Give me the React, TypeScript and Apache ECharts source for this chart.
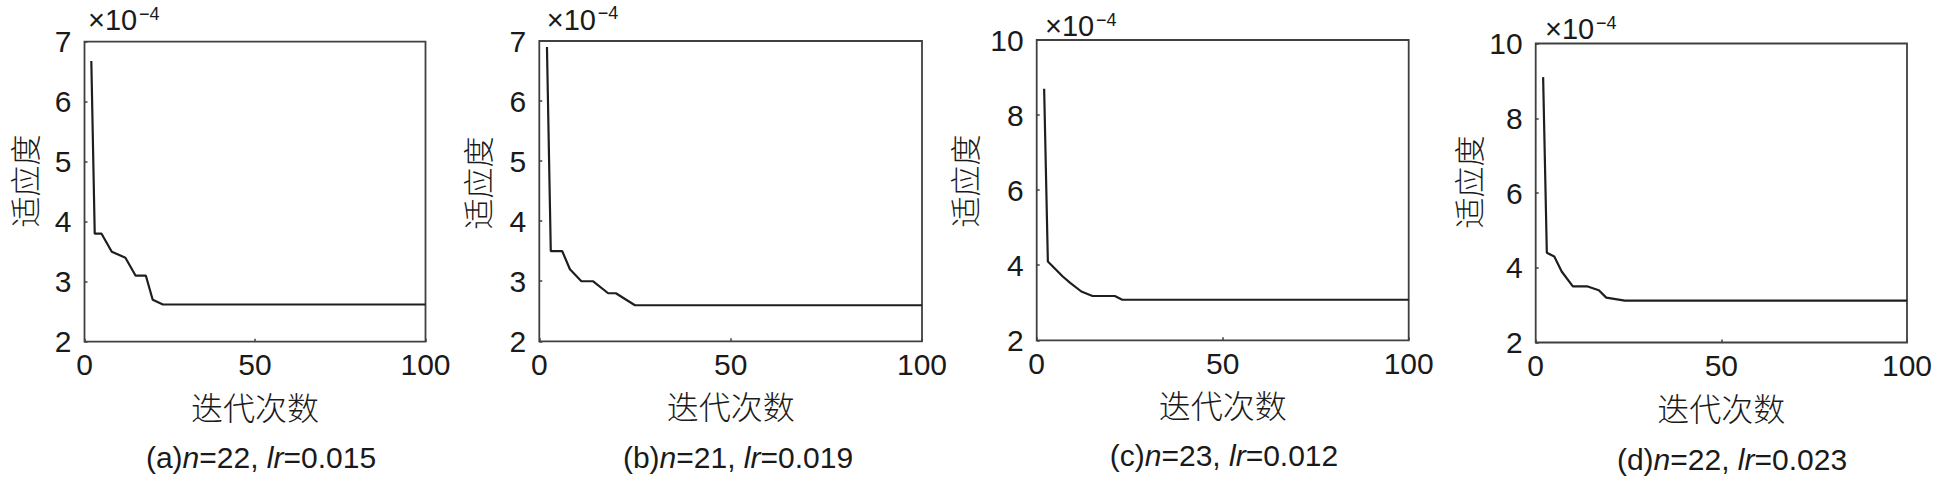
import React, { useEffect, useRef } from "react";
import * as echarts from "echarts";

// ---- data (fitness values in units of 1e-4) ----
const xTicks = [0, 50, 100];
const iterA = [2, 3, 5, 8, 12, 15, 18, 20, 23, 100];
const fitA = [6.68, 3.8, 3.8, 3.5, 3.4, 3.1, 3.1, 2.7, 2.62, 2.62];
const iterB = [2, 3, 6, 8, 11, 14, 18, 20, 25, 100];
const fitB = [6.9, 3.5, 3.5, 3.2, 3.0, 3.0, 2.8, 2.8, 2.6, 2.6];
const iterC = [2, 3, 7, 9, 12, 15, 21, 23, 100];
const fitC = [8.7, 4.1, 3.7, 3.53, 3.3, 3.18, 3.18, 3.08, 3.08];
const iterD = [2, 3, 5, 7, 10, 14, 17, 19, 24, 100];
const fitD = [9.1, 4.4, 4.3, 3.9, 3.5, 3.5, 3.4, 3.2, 3.12, 3.12];

const yRangeAB = [2, 7, 1];
const yRangeCD = [2, 10, 2];

const captionLetters = ["a", "b", "c", "d"];
const captionN = [22, 21, 23, 22];
const captionLr = ["0.015", "0.019", "0.012", "0.023"];

const xAxisName = "迭代次数";
const yAxisName = "适应度";
const expBase = "×10";
const expSup = "−4";

// ---- layout (pixels) ----
const layout = [
  { left: 84.5, top: 41.7, right: 425.5, bottom: 341.7, yName: [23, 181], expX: 88, expBaseY: 19.7, expSupY: 13.8, cap: [261, 457.5] },
  { left: 539.3, top: 41, right: 922, bottom: 341.3, yName: [476, 183], expX: 546.7, expBaseY: 20, expSupY: 12.5, cap: [738, 457] },
  { left: 1036.7, top: 40, right: 1408.7, bottom: 340.3, yName: [963, 181], expX: 1045, expBaseY: 26, expSupY: 20, cap: [1224, 455.5] },
  { left: 1535.7, top: 43.5, right: 1907, bottom: 342.5, yName: [1467, 182], expX: 1545, expBaseY: 29, expSupY: 23.3, cap: [1732, 459.5] },
];

const LATIN = "'Liberation Sans', Arial, sans-serif";
const CJK = "'Noto Sans CJK SC', sans-serif";
const AXIS_COLOR = "#404040";
const TEXT_COLOR = "#1a1a1a";

export default function App() {
  const ref = useRef<HTMLDivElement>(null);

  useEffect(() => {
    document.body.style.margin = "0";
    if (!ref.current) return;
    const chart = echarts.init(ref.current, null, { renderer: "svg" });

    const iters = [iterA, iterB, iterC, iterD];
    const fits = [fitA, fitB, fitC, fitD];
    const ranges = [yRangeAB, yRangeAB, yRangeCD, yRangeCD];

    const grid: any[] = [];
    const xAxis: any[] = [];
    const yAxis: any[] = [];
    const series: any[] = [];
    const graphic: any[] = [];

    layout.forEach((L, i) => {
      grid.push({
        left: L.left,
        top: L.top,
        width: L.right - L.left,
        height: L.bottom - L.top,
        show: true,
        borderColor: AXIS_COLOR,
        borderWidth: 1.8,
        backgroundColor: "transparent",
      });
      xAxis.push({
        gridIndex: i,
        type: "value",
        min: xTicks[0],
        max: xTicks[xTicks.length - 1],
        interval: xTicks[1] - xTicks[0],
        name: xAxisName,
        nameLocation: "middle",
        nameGap: 48,
        nameTextStyle: { fontFamily: CJK, fontSize: 32, fontWeight: 300, color: TEXT_COLOR },
        axisLine: { show: false },
        axisTick: { show: true, inside: true, length: 3, lineStyle: { color: AXIS_COLOR, width: 1.5 } },
        axisLabel: { fontFamily: LATIN, fontSize: 30, color: TEXT_COLOR, margin: 8 },
        splitLine: { show: false },
      });
      const r = ranges[i];
      yAxis.push({
        gridIndex: i,
        type: "value",
        min: r[0],
        max: r[1],
        interval: r[2],
        axisLine: { show: false },
        axisTick: { show: true, inside: true, length: 3, lineStyle: { color: AXIS_COLOR, width: 1.5 } },
        axisLabel: { fontFamily: LATIN, fontSize: 30, color: TEXT_COLOR, margin: 13 },
        splitLine: { show: false },
      });
      series.push({
        type: "line",
        xAxisIndex: i,
        yAxisIndex: i,
        data: iters[i].map((x, k) => [x, fits[i][k]]),
        showSymbol: false,
        symbol: "none",
        lineStyle: { color: "#1e1e1e", width: 2.2 },
        silent: true,
      });
      graphic.push({
        type: "text",
        x: L.yName[0],
        y: L.yName[1],
        rotation: Math.PI / 2,
        style: {
          text: yAxisName,
          font: `300 31px ${CJK}`,
          fill: TEXT_COLOR,
          textAlign: "center",
          textVerticalAlign: "middle",
        },
      });
      graphic.push({
        type: "text",
        x: L.expX,
        y: L.expBaseY,
        style: { text: expBase, font: `29px ${LATIN}`, fill: TEXT_COLOR, textAlign: "left", textVerticalAlign: "middle" },
      });
      graphic.push({
        type: "text",
        x: L.expX + 51,
        y: L.expSupY,
        style: { text: expSup, font: `18px ${LATIN}`, fill: TEXT_COLOR, textAlign: "left", textVerticalAlign: "middle" },
      });
      graphic.push({
        type: "text",
        x: L.cap[0],
        y: L.cap[1],
        style: {
          text: `{p|(${captionLetters[i]})}{i|n}{p|=${captionN[i]}, }{i|lr}{p|=${captionLr[i]}}`,
          textAlign: "center",
          textVerticalAlign: "middle",
          rich: {
            p: { fontFamily: LATIN, fontSize: 30, color: TEXT_COLOR, fill: TEXT_COLOR },
            i: { fontFamily: LATIN, fontSize: 30, fontStyle: "italic", color: TEXT_COLOR, fill: TEXT_COLOR },
          },
        },
      });
    });

    chart.setOption({
      animation: false,
      backgroundColor: "#ffffff",
      grid,
      xAxis,
      yAxis,
      series,
      graphic,
    });

    return () => chart.dispose();
  }, []);

  return (
    <div
      ref={ref}
      style={{ position: "absolute", left: 0, top: 0, width: 1942, height: 478 }}
    />
  );
}
